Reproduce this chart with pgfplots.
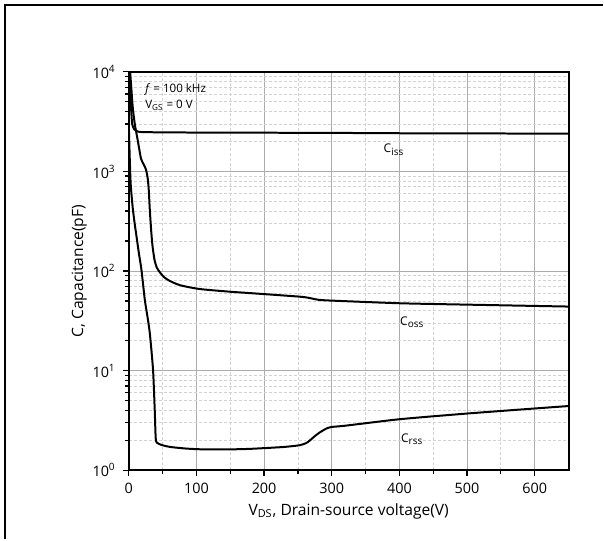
\documentclass[border=0pt]{standalone}
\usepackage{pgfplots}
\pgfplotsset{compat=1.18}
\usepackage{fontspec}
\setmainfont{Open Sans}
\begin{document}
\begin{tikzpicture}
\begin{axis}[
  at={(0,0)}, anchor=south west,
  scale only axis,
  width=220.25pt, height=199.5pt,
  xmin=0, xmax=650,
  ymode=log, ymin=1, ymax=10000,
  xtick={0,100,200,300,400,500,600},
  minor x tick num=1,
  ytick={1,10,100,1000,10000},
  yticklabels={10\textsuperscript{0},10\textsuperscript{1},10\textsuperscript{2},10\textsuperscript{3},10\textsuperscript{4}},
  /pgf/number format/assume math mode=true,
  xtick pos=bottom, ytick pos=left,
  tick align=outside,
  major tick length=3pt, minor tick length=2pt,
  tick style={black, line width=0.6pt},
  grid=both,
  major grid style={gray!65, line width=0.5pt},
  minor grid style={gray!35, dash pattern=on 1.5pt off 1pt, line width=0.4pt},
  axis line style={black, line width=1pt},
  tick label style={font=\fontsize{7.2}{8}\selectfont, text=black},
  label style={font=\fontsize{7.8}{9}\selectfont},
  xlabel={V\textsubscript{DS}, Drain-source voltage(V)},
  ylabel={C, Capacitance(pF)},
  xlabel style={yshift=2pt},
  ylabel style={yshift=-4pt},
  clip=true,
]
% Ciss
\addplot[black, line width=1pt, smooth, tension=0.4] coordinates {
(0.5,10000) (2,6500) (3.5,4200) (5,3000) (8,2650) (12,2540) (18,2490)
(50,2470) (100,2460) (200,2450) (300,2440) (400,2420) (500,2410) (650,2400)};
% Coss
\addplot[black, line width=1pt, smooth, tension=0.4] coordinates {
(2,10000) (4,6500) (6,4300) (9,2950) (13,2100) (18,1350) (22,1180) (25.5,1040)
(28,850) (29.5,656) (31,420) (33,260) (35,180) (38,130) (41,110) (45,99) (52,87)
(60,80) (76,72) (105,66) (150,62) (180,60) (250,55.5) (265,54) (280,51.5)
(300,50.5) (400,47.5) (500,46) (650,44)};
% Crss
\addplot[black, line width=1pt, smooth, tension=0.4] coordinates {
(0.3,2500) (1.5,1300) (2.5,827) (3.4,656) (6,420) (9,290) (11.4,223) (15,150)
(18.7,103) (23.6,52) (27,37) (31,24) (35.8,10.3) (38.3,4.1)
(39.8,2.1) (42,1.88) (50,1.78) (62,1.71) (85,1.65)
(110,1.62) (150,1.62) (180,1.64) (228,1.71) (252,1.78) (262,1.87) (268,2.0)
(275,2.2) (282,2.39) (292,2.62) (300,2.72) (320,2.8) (400,3.25) (498,3.7)
(596,4.15) (650,4.41)};
\node[font=\fontsize{5.8}{6.8}\selectfont, anchor=west] at (axis cs:14,6600) {\textit{f} = 100 kHz};
\node[font=\fontsize{5.8}{6.8}\selectfont, anchor=west] at (axis cs:14,4600) {V\textsubscript{GS} = 0 V};
\node[font=\fontsize{6}{7}\selectfont] at (axis cs:392,1650) {C\textsubscript{iss}};
\node[font=\fontsize{6}{7}\selectfont] at (axis cs:419,31) {C\textsubscript{oss}};
\node[font=\fontsize{6}{7}\selectfont] at (axis cs:419,2.05) {C\textsubscript{rss}};
\end{axis}
\draw[black, line width=1pt] (-62pt,-34.5pt) -- (-62pt,233pt) -- (237.5pt,233pt);
\path[use as bounding box] (-64.5pt,-34.5pt) rectangle (237.5pt,235.5pt);
\end{tikzpicture}
\end{document}
